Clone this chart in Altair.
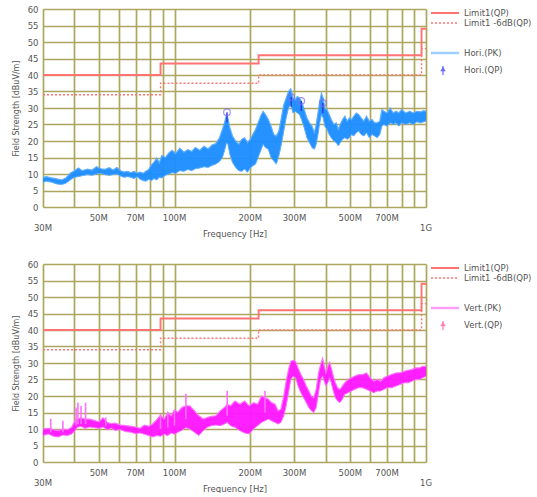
import altair as alt
import pandas as pd

# ---- Horizontal polarisation, peak detector: envelope of the trace (MHz, dBuV/m)
hori_freq = [30, 31, 32.5, 34, 35.5, 37, 38.5, 40, 41.5, 43, 45, 47, 49, 51, 53, 55, 57, 59,
             61, 63, 65, 67, 69, 71, 73, 75, 77, 79, 81, 83, 85, 87, 89, 92, 95, 98, 101,
             105, 109, 113, 117, 121, 126, 131, 136, 141, 146, 151, 155, 158, 161, 163,
             166, 170, 175, 180, 185, 190, 195, 200, 205, 210, 215, 220, 225, 230, 236,
             242, 248, 254, 260, 266, 272, 278, 284, 290, 296, 302, 308, 314, 320, 328,
             336, 344, 352, 360, 366, 372, 378, 384, 390, 396, 404, 412, 420, 430, 440,
             448, 456, 466, 476, 486, 496, 506, 516, 528, 540, 552, 566, 580, 595, 610,
             625, 640, 655, 668, 680, 700, 720, 740, 760, 780, 800, 830, 860, 890, 920,
             950, 980, 1000]
hori_lo = [7.5, 7.8, 7.5, 7.0, 6.8, 7.2, 8.2, 9.0, 9.2, 9.5, 9.8, 9.6, 10.0, 10.2, 9.8, 9.6,
           9.8, 10.0, 9.4, 9.0, 9.2, 9.0, 8.6, 9.2, 8.4, 8.0, 7.8, 8.4, 8.0, 8.6, 8.2, 9.0,
           8.8, 9.6, 10.0, 10.4, 10.2, 11.0, 10.8, 11.4, 11.0, 11.6, 11.8, 12.2, 12.0, 12.6,
           13.0, 13.8, 15.0, 17.0, 19.5, 19.0, 16.0, 13.5, 12.0, 11.0, 10.8, 11.5, 10.5,
           11.8, 12.5, 13.0, 15.0, 17.0, 19.0, 18.0, 17.5, 15.0, 14.0, 13.0, 15.5, 19.0,
           23.0, 27.0, 30.0, 31.0, 28.5, 29.0, 28.5, 28.0, 26.5, 24.0, 21.0, 19.5, 18.0,
           17.5, 19.0, 22.0, 25.5, 28.0, 27.0, 24.5, 23.5, 22.0, 21.0, 20.0, 19.5, 18.5,
           19.5, 20.5, 21.0, 20.5, 21.0, 22.0, 21.5, 22.5, 23.0, 22.0, 21.5, 22.5, 21.0,
           22.0, 21.5, 21.0, 22.0, 24.5, 25.0, 24.5, 25.5, 25.0, 25.5, 24.5, 25.5, 25.0,
           25.5, 25.0, 25.8, 25.5, 25.8, 26.0]
hori_hi = [9.0, 9.2, 8.8, 8.5, 8.2, 8.8, 10.2, 11.0, 11.8, 11.0, 11.5, 11.2, 12.2, 11.6,
           11.4, 11.9, 11.2, 12.0, 11.0, 10.6, 10.8, 10.4, 10.8, 10.3, 10.6, 10.2, 10.8,
           11.4, 12.8, 13.6, 14.8, 13.4, 15.6, 15.0, 16.4, 17.2, 16.2, 17.8, 16.6, 17.4,
           16.8, 18.0, 17.2, 18.4, 17.6, 18.8, 19.2, 21.0, 23.5, 25.5, 28.0, 27.0, 24.0,
           21.5, 20.0, 19.0, 20.5, 21.0, 19.5, 20.5, 22.0, 23.5, 25.5, 27.5, 29.0, 28.0,
           26.5, 24.5, 22.0, 21.5, 23.0, 27.0, 31.0, 33.0, 35.0, 35.8, 33.0, 32.5, 33.5,
           33.0, 32.0, 29.5, 27.0, 25.5, 24.5, 22.5, 25.0, 28.5, 32.0, 34.5, 33.0, 30.0,
           29.5, 28.0, 26.5, 25.0, 25.5, 23.5, 25.0, 26.5, 27.5, 26.0, 27.0, 26.5, 27.5,
           28.5, 28.0, 27.0, 26.0, 27.5, 26.0, 26.5, 25.5, 25.5, 26.0, 29.5, 29.0, 28.5,
           30.0, 28.5, 29.0, 28.5, 29.5, 28.5, 29.0, 28.5, 29.0, 28.8, 29.2, 29.0]

# ---- Vertical polarisation, peak detector
vert_freq = [30, 31.5, 33, 34.5, 36, 37.5, 39, 40.2, 41, 42.5, 44, 46, 48, 50, 52, 54, 56,
             58, 61, 64, 67, 70, 73, 76, 79, 82, 85, 88, 91, 94, 97, 100, 103, 107, 111,
             115, 120, 125, 130, 135, 140, 146, 152, 158, 162, 167, 174, 182, 190, 198,
             206, 214, 222, 229, 236, 243, 251, 258, 265, 272, 278, 284, 290, 296, 303,
             310, 318, 326, 334, 342, 350, 358, 366, 374, 381, 388, 394, 400, 407, 414,
             420, 428, 436, 445, 455, 465, 475, 490, 505, 520, 540, 560, 580, 600, 620,
             640, 660, 680, 700, 730, 760, 790, 820, 850, 880, 910, 940, 970, 1000]
vert_lo = [8.0, 8.5, 7.8, 7.6, 8.2, 8.0, 8.5, 9.5, 10.5, 10.8, 10.2, 10.6, 10.4, 10.2, 10.6,
           9.8, 10.2, 9.6, 9.8, 9.2, 9.0, 8.6, 8.8, 8.4, 8.0, 7.6, 8.0, 7.8, 8.4, 8.0, 8.8,
           8.4, 9.0, 9.6, 10.4, 10.0, 9.0, 8.0, 9.5, 10.5, 11.0, 11.2, 11.0, 11.5, 12.0,
           11.0, 10.5, 9.5, 8.8, 8.5, 10.0, 11.0, 12.0, 12.5, 13.0, 12.5, 12.0, 11.5, 12.0,
           14.0, 17.0, 21.0, 25.0, 26.0, 25.5, 23.0, 21.0, 19.5, 18.0, 16.5, 15.5, 15.0,
           16.5, 21.0, 25.0, 26.0, 24.5, 23.0, 24.0, 25.5, 24.0, 21.5, 19.5, 18.5, 18.0,
           19.0, 20.5, 21.0, 21.5, 22.0, 22.5, 22.5, 22.0, 21.5, 21.0, 21.5, 21.5, 22.0,
           22.5, 22.5, 23.0, 23.5, 24.0, 24.0, 24.5, 25.0, 25.0, 25.5, 26.0]
vert_hi = [10.0, 10.2, 9.8, 9.5, 10.0, 9.8, 10.5, 12.5, 13.0, 13.4, 13.0, 13.0, 12.6, 12.2,
           13.4, 12.0, 11.6, 11.8, 11.2, 11.0, 10.8, 10.6, 10.2, 11.2, 10.8, 11.6, 12.8,
           14.2, 13.0, 15.0, 14.0, 15.8, 15.0, 16.5, 17.0, 17.0, 15.5, 14.0, 13.0, 13.5,
           13.8, 14.0, 15.5, 16.5, 17.5, 17.0, 18.5, 17.5, 18.5, 17.0, 18.0, 17.5, 20.0,
           19.5, 19.0, 18.0, 17.5, 15.5, 16.0, 20.0, 24.5, 28.0, 30.5, 30.8, 30.5, 28.5,
           26.5, 25.0, 23.0, 21.5, 20.0, 19.5, 22.0, 27.0, 29.5, 31.4, 29.0, 27.0, 29.0,
           30.2, 28.5, 26.0, 24.0, 22.5, 22.0, 23.0, 24.0, 25.0, 25.5, 26.0, 26.5, 26.5,
           27.0, 25.5, 24.5, 25.0, 24.5, 25.5, 26.0, 26.5, 27.0, 27.0, 27.5, 27.8, 28.0,
           28.5, 28.5, 29.0, 29.0]
# isolated narrow spikes standing out of the vertical trace
vert_spike_freq = [32.2, 36.0, 40.6, 41.3, 42.5, 44.3, 53.3, 88, 94, 100, 111, 162, 229]
vert_spike_base = [9.0, 9.0, 11.0, 11.5, 11.5, 11.5, 11.0, 10.0, 10.5, 11.0, 13.0, 14.0, 15.0]
vert_spike_top = [13.1, 12.5, 16.5, 18.0, 17.0, 18.0, 13.5, 14.5, 15.2, 15.8, 20.7, 21.6, 21.6]

# ---- Limit line (QP) and the same line lowered by 6 dB
limit_freq = [30, 88, 216, 960, 1000]
limit_qp = [40, 43.5, 46, 54, 54]
limit_6db = [34, 37.5, 40, 48, 48]

# ---- Quasi-peak readings, horizontal
qp_freq = [161.7, 291, 319, 389]
qp_level = [28.7, 33.3, 32.1, 31.5]

# ---- Axis furniture
grid_freq = [30, 40, 50, 60, 70, 80, 90, 100, 200, 300, 400, 500, 600, 700, 800, 900, 1000]
level_ticks = list(range(0, 61, 5))
tick_freq = [30, 50, 70, 100, 200, 300, 500, 700, 1000]
tick_text = ["30M", "50M", "70M", "100M", "200M", "300M", "500M", "700M", "1G"]
tick_row = [1, 0, 0, 0, 0, 0, 0, 0, 1]

W, H = 383, 198
GRID = "#aca65f"
LIMIT = "#ff7373"
FONT = "DejaVu Sans"
TXT = "#555555"

xscale = alt.Scale(type="log", domain=[30, 1000], nice=False)
yscale = alt.Scale(domain=[0, 60], nice=False)

x_axis = alt.Axis(values=grid_freq, labels=False, ticks=False, domain=False,
                  grid=True, gridColor=GRID, gridWidth=1.7, gridOpacity=1,
                  title="Frequency [Hz]", titlePadding=22, titleFont=FONT,
                  titleFontSize=8.5, titleFontWeight="normal", titleColor=TXT)
y_axis = alt.Axis(values=level_ticks, ticks=False, domain=False, grid=True,
                  gridColor=GRID, gridWidth=1.7, gridOpacity=1, labelPadding=5,
                  labelFont=FONT, labelFontSize=8.5, labelColor=TXT, labelOverlap=False,
                  title="Field Strength [dBuV/m]", titlePadding=7, titleFont=FONT,
                  titleFontSize=8, titleFontWeight="normal", titleColor=TXT)


def X(field):
    return alt.X(field, scale=xscale, axis=x_axis)


def Y(field):
    return alt.Y(field, scale=yscale, axis=y_axis)


def panel(freq, lo, hi, band, edge, legend_line, pk_name, qp_name, qp_color,
          qp=None, spikes=None):
    trace = pd.DataFrame({"f": freq, "lo": lo, "hi": hi})
    limits = pd.DataFrame({"f": limit_freq, "qp": limit_qp, "m6": limit_6db})
    ticks = pd.DataFrame({"f": tick_freq, "t": tick_text, "row": tick_row})

    base = alt.Chart(trace).encode(x=X("f:Q"))
    band_area = base.mark_area(color=band, opacity=0.95).encode(y=Y("lo:Q"), y2="hi:Q")
    hi_edge = base.mark_line(color=edge, strokeWidth=1.2).encode(y=Y("hi:Q"))
    lo_edge = base.mark_line(color=edge, strokeWidth=1.0).encode(y=Y("lo:Q"))
    layers = [band_area, lo_edge, hi_edge]

    if spikes is not None:
        sp = pd.DataFrame({"f": spikes[0], "b": spikes[1], "t": spikes[2]})
        layers.append(alt.Chart(sp).mark_rule(color=edge, strokeWidth=1.6).encode(
            x=X("f:Q"), y=Y("b:Q"), y2="t:Q"))

    lim = alt.Chart(limits).encode(x=X("f:Q"))
    layers.append(lim.mark_line(color=LIMIT, strokeWidth=1.4, strokeDash=[2, 2],
                                interpolate="step-after").encode(y=Y("m6:Q")))
    layers.append(lim.mark_line(color=LIMIT, strokeWidth=1.9,
                                interpolate="step-after").encode(y=Y("qp:Q")))

    # frequency labels on two staggered rows below the plot
    lab = alt.Chart(ticks).mark_text(font=FONT, fontSize=8.5, color=TXT, baseline="middle")
    layers.append(lab.transform_filter("datum.row == 0").encode(
        x=X("f:Q"), y=alt.value(H + 11), text="t:N"))
    layers.append(lab.transform_filter("datum.row == 1").encode(
        x=X("f:Q"), y=alt.value(H + 21), text="t:N"))

    if qp is not None:
        q = pd.DataFrame({"f": qp[0], "v": qp[1]})
        q["stem"] = q["v"] - 3
        qb = alt.Chart(q).encode(x=X("f:Q"))
        layers.append(qb.mark_rule(color="#2b2bd0", strokeWidth=1.2).encode(
            y=Y("v:Q"), y2="stem:Q"))
        layers.append(qb.mark_point(shape="circle", filled=False, color="#7a6cff",
                                    size=45, strokeWidth=1.2).encode(y=Y("v:Q")))

    # legend at the right of the plot
    leg = alt.Chart(pd.DataFrame({"k": [0]}))
    lx0, lx1, tx = W + 5, W + 33, W + 38
    layers += [
        leg.mark_rule(color=LIMIT, strokeWidth=2).encode(
            x=alt.value(lx0), x2=alt.value(lx1), y=alt.value(4)),
        leg.mark_rule(color=LIMIT, strokeWidth=1.4, strokeDash=[2, 2]).encode(
            x=alt.value(lx0), x2=alt.value(lx1), y=alt.value(14)),
        leg.mark_rule(color=legend_line, strokeWidth=2.4).encode(
            x=alt.value(lx0), x2=alt.value(lx1), y=alt.value(44)),
        leg.mark_rule(color=qp_color, strokeWidth=1.3).encode(
            x=alt.value(W + 17), y=alt.value(57), y2=alt.value(66)),
        leg.mark_point(shape="triangle-up", filled=True, color=qp_color, size=30,
                       opacity=1).encode(x=alt.value(W + 17), y=alt.value(60)),
    ]
    for yy, name in [(4, "Limit1(QP)"), (14, "Limit1 -6dB(QP)"), (44, pk_name), (61, qp_name)]:
        layers.append(leg.mark_text(font=FONT, fontSize=8.5, color=TXT, align="left",
                                    baseline="middle", text=name).encode(
            x=alt.value(tx), y=alt.value(yy)))

    return alt.layer(*layers).properties(width=W, height=H)


top = panel(hori_freq, hori_lo, hori_hi, "#1a8cff", "#5eaeff", "#9ccfff",
            "Hori.(PK)", "Hori.(QP)", "#6b6bff", qp=(qp_freq, qp_level))
bottom = panel(vert_freq, vert_lo, vert_hi, "#ff14ff", "#ff70ff", "#ff9cff",
               "Vert.(PK)", "Vert.(QP)", "#ff80b4",
               spikes=(vert_spike_freq, vert_spike_base, vert_spike_top))

chart = alt.vconcat(top, bottom, spacing=21).properties(
    padding={"left": 11, "top": 4, "right": 0, "bottom": 0}
).configure_view(stroke=GRID, strokeWidth=2).configure(background="white")

chart.save("out.html", embed_options={"renderer": "svg", "actions": False})
